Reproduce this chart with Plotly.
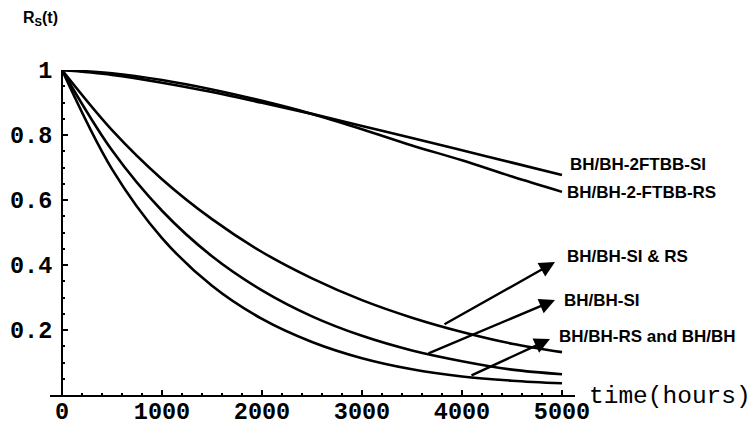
import plotly.graph_objects as go

# operating time (hours)
time_h = [0, 500, 1000, 1500, 2000, 2500, 3000, 3500, 4000, 4500, 5000]

# system reliability R_S(t) for each configuration
r_2ftbb_si = [1.0, 0.985, 0.961, 0.932, 0.899, 0.865, 0.828, 0.791, 0.753, 0.715, 0.677]
r_2ftbb_rs = [1.0, 0.990, 0.969, 0.940, 0.905, 0.865, 0.818, 0.768, 0.722, 0.672, 0.625]
r_si_rs = [1.0, 0.815, 0.664, 0.541, 0.440, 0.359, 0.292, 0.238, 0.194, 0.158, 0.132]
r_si = [1.0, 0.753, 0.567, 0.427, 0.322, 0.242, 0.182, 0.137, 0.104, 0.078, 0.064]
r_rs_bh = [1.0, 0.695, 0.483, 0.336, 0.234, 0.163, 0.113, 0.079, 0.057, 0.044, 0.036]

x_ticks = [0, 1000, 2000, 3000, 4000, 5000]
y_ticks = [0.2, 0.4, 0.6, 0.8, 1.0]
y_tick_text = ["0.2", "0.4", "0.6", "0.8", "1"]

# (label, label x, label y, arrow tail x, tail y, head x, head y)
arrow_labels = [
    ("BH/BH-SI &amp; RS", 5030, 0.425, 3810, 0.215, 4930, 0.409),
    ("BH/BH-SI", 5000, 0.290, 3650, 0.126, 4930, 0.292),
    ("BH/BH-RS and BH/BH", 4950, 0.180, 4080, 0.058, 4880, 0.172),
]
end_labels = [
    ("BH/BH-2FTBB-SI", 5060, 0.708),
    ("BH/BH-2-FTBB-RS", 5030, 0.622),
]

X_MIN, X_MAX = -120, 5130
label_font = dict(family="Liberation Sans, Arial, sans-serif", size=17,
                  color="black", weight="bold")
tick_font = dict(family="Liberation Mono, Courier New, monospace", size=23.5,
                 color="black", weight="bold")
title_font = dict(family="Liberation Mono, Courier New, monospace", size=24.5,
                  color="black")

fig = go.Figure()
for series in [r_2ftbb_si, r_2ftbb_rs, r_si_rs, r_si, r_rs_bh]:
    fig.add_trace(go.Scatter(
        x=time_h, y=series, mode="lines",
        line=dict(color="black", width=2.6, shape="spline", smoothing=1.0),
        cliponaxis=False, showlegend=False, hoverinfo="skip",
    ))

for text, lx, ly, tx, ty, hx, hy in arrow_labels:
    fig.add_annotation(
        x=hx, y=hy, ax=tx, ay=ty, xref="x", yref="y", axref="x", ayref="y",
        text="", showarrow=True, arrowhead=2, arrowsize=1.3, arrowwidth=2.4,
        arrowcolor="black",
    )
    fig.add_annotation(
        x=lx, y=ly, xref="x", yref="y", text=text, showarrow=False,
        xanchor="left", yanchor="middle", font=label_font,
    )

for text, lx, ly in end_labels:
    fig.add_annotation(
        x=lx, y=ly, xref="x", yref="y", text=text, showarrow=False,
        xanchor="left", yanchor="middle", font=label_font,
    )

# axis titles, placed in paper coordinates beyond the plot area
fig.add_annotation(
    x=-0.055, y=1.16, xref="paper", yref="paper", text="R<sub>S</sub>(t)",
    showarrow=False, xanchor="left", yanchor="middle",
    font=dict(family="Liberation Sans, Arial, sans-serif", size=16,
              color="black", weight="bold"),
)
fig.add_annotation(
    x=1.022, y=-0.005, xref="paper", yref="paper", text="time(hours)",
    showarrow=False, xanchor="left", yanchor="middle", font=title_font,
)

fig.update_layout(
    width=756, height=425,
    margin=dict(l=50, r=181, t=70, b=30),
    paper_bgcolor="white", plot_bgcolor="white",
    showlegend=False,
    xaxis=dict(
        range=[X_MIN, X_MAX], domain=[0, 1], showgrid=False, zeroline=False,
        showline=True, linecolor="black", linewidth=2,
        tickmode="array", tickvals=x_ticks, ticktext=[str(v) for v in x_ticks],
        ticks="inside", ticklen=5, tickwidth=1.5, tickcolor="black",
        minor=dict(ticks="inside", ticklen=2, dtick=200, tickcolor="black"),
        tickfont=tick_font, ticklabelstandoff=-6, automargin=False,
    ),
    yaxis=dict(
        range=[0, 1], anchor="free", position=(0 - X_MIN) / (X_MAX - X_MIN),
        showgrid=False, zeroline=False,
        showline=True, linecolor="black", linewidth=2,
        tickmode="array", tickvals=y_ticks, ticktext=y_tick_text,
        ticks="inside", ticklen=5, tickwidth=1.5, tickcolor="black",
        minor=dict(ticks="inside", ticklen=2, dtick=0.05, tickcolor="black"),
        tickfont=tick_font, ticklabelstandoff=4, automargin=False,
    ),
)

fig.write_html("out.html")
